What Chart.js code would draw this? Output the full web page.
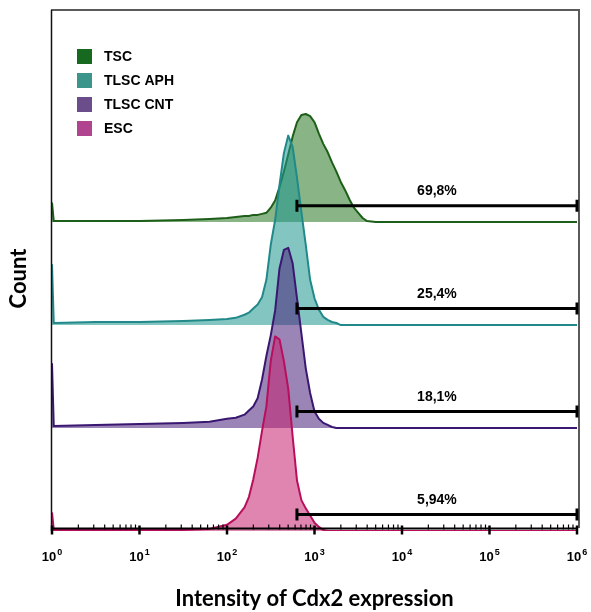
<!DOCTYPE html>
<html>
<head>
<meta charset="utf-8">
<script src="https://cdn.jsdelivr.net/npm/chart.js@4.4.0/dist/chart.umd.min.js"></script>
<style>
  html, body { margin: 0; padding: 0; background: #fff; }
</style>
</head>
<body>
<canvas id="myChart" width="591" height="612"></canvas>
<script>
// log10 of the intensity channels the histograms were read at
const channelExp = [0, 0.02, 0.5, 1.0, 1.5, 1.8, 2.0, 2.1, 2.2, 2.25, 2.3, 2.35, 2.4, 2.45, 2.5, 2.55,
  2.6, 2.65, 2.7, 2.75, 2.8, 2.85, 2.9, 2.95, 3.0, 3.05, 3.1, 3.15, 3.2, 3.25, 3.3, 3.35,
  3.4, 3.45, 3.5, 3.55, 3.6, 3.7, 4.0, 5.0, 6.0];

const seriesNames = ["TSC", "TLSC APH", "TLSC CNT", "ESC"];

// counts per channel (same order as channelExp)
const countTSC = [19, 1, 1, 1, 2, 3, 4, 5, 6, 6, 7, 7, 8, 9, 14, 21, 34, 49, 66, 83, 97, 104, 105, 103,
  97, 86, 76, 68, 58, 49, 39, 31, 22, 14, 9, 4, 1, 0, 0, 0, 0];
const countAPH = [59, 2, 3, 3, 4, 5, 6, 7, 10, 12, 16, 20, 27, 44, 78, 102, 136, 167, 184, 173, 143, 110,
  78, 44, 26, 15, 8, 5, 3, 2, 0, 0, 0, 0, 0, 0, 0, 0, 0, 0, 0];
const countCNT = [63, 2, 3, 4, 5, 6, 9, 10, 13, 17, 21, 29, 47, 70, 90, 114, 155, 173, 175, 160, 126, 92,
  58, 34, 16, 9, 5, 3, 1, 0, 0, 0, 0, 0, 0, 0, 0, 0, 0, 0, 0];
const countESC = [18, 1, 1, 1, 1, 2, 6, 12, 23, 33, 50, 71, 97, 121, 165, 189, 186, 165, 138, 92, 49, 30,
  22, 15, 8, 4, 1, 0, 0, 0, 0, 0, 0, 0, 0, 0, 0, 0, 0, 0, 0];

// histograms are stacked, one track of 100 counts each
const trackOffset = [300, 200, 100, 0];

// marker gate (same range for all four)
const gateFrom = 630;
const gateTo = 1000000;
const gateLevel = 16;
const gateLabels = ["69,8%", "25,4%", "18,1%", "5,94%"];

const tickValues = [1, 10, 100, 1000, 10000, 100000, 1000000];
const tickExponents = ["0", "1", "2", "3", "4", "5", "6"];

const lineColors = ["#1d5f18", "#22898a", "#3a1770", "#b80f5c"];
const fillColors = ["rgba(40,118,35,0.55)", "rgba(30,152,142,0.55)", "rgba(72,32,122,0.55)", "rgba(196,32,112,0.55)"];
const legendColors = ["#16691f", "#3b958b", "#6b4d8b", "#b1448f"];

const allCounts = [countTSC, countAPH, countCNT, countESC];

const decor = {
  id: "decor",
  afterDatasetsDraw(chart) {
    const ctx = chart.ctx;
    const a = chart.chartArea;
    const xs = chart.scales.x;
    const ys = chart.scales.y;
    ctx.save();

    // frame
    ctx.strokeStyle = "#5a5a5a";
    ctx.lineWidth = 2;
    ctx.beginPath();
    ctx.moveTo(a.left - 1, a.top);
    ctx.lineTo(a.right + 2, a.top);
    ctx.lineTo(a.right + 2, a.bottom - 3);
    ctx.stroke();
    ctx.strokeStyle = "#111";
    ctx.lineWidth = 1.5;
    ctx.beginPath();
    ctx.moveTo(a.left - 0.5, a.top);
    ctx.lineTo(a.left - 0.5, a.bottom);
    ctx.stroke();

    // x axis line + log ticks
    const axisY = a.bottom - 2.5;
    ctx.strokeStyle = "#000";
    ctx.lineWidth = 2;
    ctx.beginPath();
    ctx.moveTo(a.left, axisY);
    ctx.lineTo(a.right, axisY);
    ctx.stroke();
    for (let d = 0; d <= 6; d++) {
      for (let m = 1; m <= 9; m++) {
        if (d === 6 && m > 1) break;
        const x = xs.getPixelForValue(m * Math.pow(10, d));
        ctx.beginPath();
        if (m === 1) {
          ctx.lineWidth = 2.5;
          ctx.moveTo(x, axisY - 3);
          ctx.lineTo(x, axisY + 6);
        } else {
          ctx.lineWidth = 1.2;
          ctx.moveTo(x, axisY - 4);
          ctx.lineTo(x, axisY + 1);
        }
        ctx.stroke();
      }
    }

    // decade labels 10^n
    ctx.fillStyle = "#000";
    ctx.textAlign = "left";
    ctx.textBaseline = "alphabetic";
    tickValues.forEach((v, i) => {
      const x = xs.getPixelForValue(v);
      ctx.font = "bold 13px 'Liberation Sans', Arial, sans-serif";
      const wb = ctx.measureText("10").width;
      ctx.font = "bold 9px 'Liberation Sans', Arial, sans-serif";
      const we = ctx.measureText(tickExponents[i]).width;
      const x0 = x - (wb + we + 1) / 2;
      ctx.font = "bold 13px 'Liberation Sans', Arial, sans-serif";
      ctx.fillText("10", x0, a.bottom + 30);
      ctx.font = "bold 9px 'Liberation Sans', Arial, sans-serif";
      ctx.fillText(tickExponents[i], x0 + wb + 1, a.bottom + 24);
    });

    // y title
    ctx.save();
    ctx.translate(19, (a.top + a.bottom) / 2 + 8);
    ctx.rotate(-Math.PI / 2);
    ctx.textAlign = "center";
    ctx.textBaseline = "middle";
    ctx.font = "bold 22px Lato, sans-serif";
    ctx.fillText("Count", 0, 0);
    ctx.restore();

    // gates
    const x1 = xs.getPixelForValue(gateFrom);
    const x2 = xs.getPixelForValue(gateTo);
    ctx.lineWidth = 3;
    ctx.font = "bold 14px 'Liberation Sans', Arial, sans-serif";
    ctx.fillStyle = "#000";
    ctx.textAlign = "center";
    ctx.textBaseline = "middle";
    gateLabels.forEach((lab, i) => {
      const y = ys.getPixelForValue(trackOffset[i] + gateLevel);
      ctx.beginPath();
      ctx.moveTo(x1, y);
      ctx.lineTo(x2, y);
      ctx.moveTo(x1, y - 6);
      ctx.lineTo(x1, y + 6);
      ctx.moveTo(x2, y - 6);
      ctx.lineTo(x2, y + 6);
      ctx.stroke();
      ctx.fillText(lab, (x1 + x2) / 2, y - 14);
    });

    // legend
    ctx.textAlign = "left";
    seriesNames.forEach((name, i) => {
      const cy = a.top + 46 + i * 24;
      ctx.fillStyle = legendColors[i];
      ctx.fillRect(a.left + 25, cy - 7, 15, 15);
      ctx.fillStyle = "#000";
      ctx.fillText(name, a.left + 52, cy + 1);
    });
    ctx.restore();
  }
};

const datasets = seriesNames.map((name, i) => ({
  label: name,
  data: channelExp.map((e, j) => ({ x: Math.pow(10, e), y: trackOffset[i] + allCounts[i][j] })),
  borderColor: lineColors[i],
  backgroundColor: fillColors[i],
  borderWidth: 2,
  borderJoinStyle: "round",
  pointRadius: 0,
  tension: 0,
  fill: { value: trackOffset[i] },
  order: 4 - i
}));

let ctx = document.getElementById("myChart").getContext("2d");
let myChart = new Chart(ctx, {
  type: "line",
  data: { datasets: datasets },
  options: {
    responsive: false,
    animation: false,
    layout: { padding: { top: 10, right: 14, left: 0, bottom: 0 } },
    plugins: { legend: { display: false }, tooltip: { enabled: false } },
    scales: {
      x: {
        type: "logarithmic",
        min: 1,
        max: 1000000,
        grid: { display: false },
        border: { display: false },
        afterBuildTicks: (s) => { s.ticks = tickValues.map((v) => ({ value: v })); },
        afterFit: (s) => { s.height = 81; s.paddingLeft = 0; s.paddingRight = 0; },
        ticks: { display: false },
        title: {
          display: true,
          text: "Intensity of Cdx2 expression",
          color: "#000",
          font: { family: "Lato, sans-serif", weight: "bold", size: 22 },
          padding: { top: 0, bottom: 0 }
        }
      },
      y: {
        min: 0,
        max: 506,
        grid: { display: false },
        border: { display: false },
        ticks: { display: false },
        afterFit: (s) => { s.width = 52; }
      }
    }
  },
  plugins: [decor]
});
</script>
</body>
</html>
